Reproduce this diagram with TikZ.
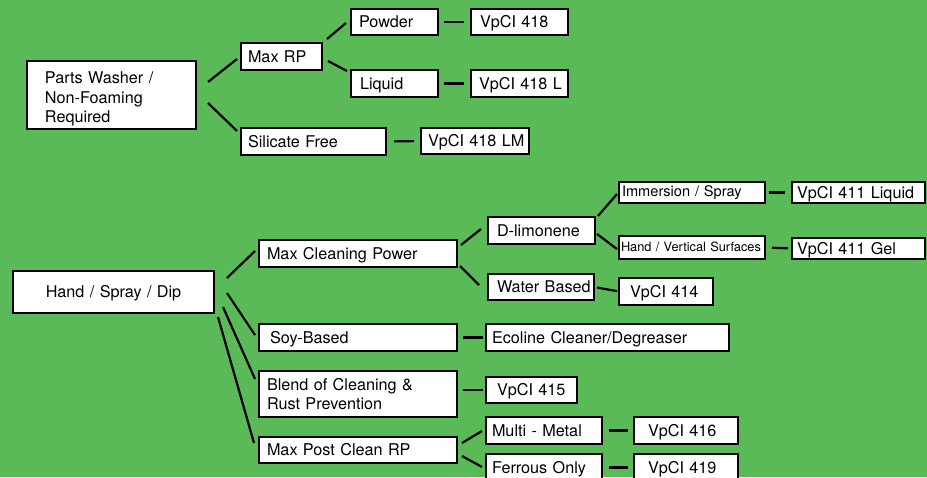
\documentclass[tikz,border=0pt]{standalone}
\usepackage{fontspec}
\setmainfont{TeX Gyre Heros}
\definecolor{leaf}{RGB}{91,186,88}

\begin{document}
\begin{tikzpicture}[x=1pt, y=-1pt, line width=2.2pt,
    main/.style = {draw, fill=white, anchor=north west, inner sep=0pt, outer sep=0pt, align=left,
      font=\fontsize{16.2}{19.5}\selectfont, text height=11.7pt, text depth=0pt},
    tie/.style 2 args = {shorten <=#1pt, shorten >=#2pt}]
      \useasboundingbox (0,0) rectangle (927,477);
      \fill[leaf] (0,0) rectangle (927,477);

      % parts washer branch
      \node[main, minimum width=169pt, minimum height=68pt, text width=133pt, text height=20pt, text depth={}] (1) at (27,61) {Parts Washer /\\Non-Foaming\\Required};
      \node[main, minimum width=81pt, minimum height=27pt, text width=67pt] (2) at (241,43) {Max RP};
      \node[main, minimum width=87pt, minimum height=26pt, text width=71pt] (3) at (351,9) {Powder};
      \node[main, minimum width=97pt, minimum height=26pt, text width=79pt] (4) at (471,9) {VpCI 418};
      \node[main, minimum width=87pt, minimum height=27pt, text width=69pt] (5) at (351,70) {Liquid};
      \node[main, minimum width=97pt, minimum height=27pt, text width=81pt] (6) at (471,70) {\mbox{VpCI 418 L}};
      \node[main, minimum width=145pt, minimum height=27pt, text width=131pt] (7) at (241,128) {Silicate Free};
      \node[main, minimum width=108pt, minimum height=26pt, text width=94pt] (8) at (421,128) {\mbox{VpCI 418 LM}};

      % hand / spray / dip branch
      \node[main, minimum width=201pt, minimum height=42pt, text width=181pt, align=center] (9) at (13,271) {Hand / Spray / Dip};
      \node[main, minimum width=198pt, minimum height=27pt, text width=182pt] (10) at (259,240) {Max Cleaning Power};
      \node[main, minimum width=198pt, minimum height=27pt, text width=176pt] (11) at (259,324) {Soy-Based};
      \node[main, minimum width=198pt, minimum height=46pt, text width=182pt, text height={}, text depth={}] (12) at (259,371) {Blend of Cleaning \&\\Rust Prevention};
      \node[main, minimum width=198pt, minimum height=26pt, text width=182pt] (13) at (259,437) {Max Post Clean RP};

      \node[main, minimum width=107pt, minimum height=27pt, text width=89pt] (14) at (488,217) {D-limonene};
      \node[main, minimum width=106pt, minimum height=26pt, text width=88pt] (15) at (488,274) {\mbox{Water Based}};
      \node[main, minimum width=146pt, minimum height=21pt, text width=140pt, text height=8.4pt, font=\fontsize{14.6}{17}\selectfont] (16) at (619,182) {Immersion / Spray};
      \node[main, minimum width=146pt, minimum height=23pt, text width=142pt, text height=8.4pt, font=\fontsize{12.8}{15}\selectfont] (17) at (619,236) {\mbox{Hand / Vertical Surfaces}};
      \node[main, minimum width=133pt, minimum height=21pt, text width=123pt] (18) at (792,182) {VpCI 411 Liquid};
      \node[main, minimum width=133pt, minimum height=21pt, text width=123pt] (19) at (792,238) {VpCI 411 Gel};
      \node[main, minimum width=94pt, minimum height=27pt, text width=72pt] (20) at (619,278) {VpCI 414};
      \node[main, minimum width=243pt, minimum height=27pt, text width=231pt] (21) at (486,324) {Ecoline Cleaner/Degreaser};
      \node[main, minimum width=91pt, minimum height=26pt, text width=69pt] (22) at (486,377) {\mbox{VpCI 415}};
      \node[main, minimum width=116pt, minimum height=27pt, text width=104pt] (23) at (486,417) {Multi - Metal};
      \node[main, minimum width=116pt, minimum height=27pt, text width=104pt] (24) at (486,454) {Ferrous Only};
      \node[main, minimum width=104pt, minimum height=27pt, text width=76pt] (25) at (634,417) {VpCI 416};
      \node[main, minimum width=104pt, minimum height=27pt, text width=76pt] (26) at (634,454) {VpCI 419};

      \path
      ([shift={(12,-13)}]1.east) edge ([shift={(-4,2.5)}]2.west)
      ([shift={(12,8)}]1.east) edge ([shift={(-4,-10.5)}]7.west)
      ([shift={(5,-17.5)}]2.east) edge ([shift={(-5,1)}]3.west)
      ([shift={(6,4.5)}]2.east) edge ([shift={(-4,-12.5)}]5.west)
      (3.east) edge[tie={6}{7}] (4.west)
      (5.east) edge[tie={6}{7}] (6.west)
      (7.east) edge[tie={8}{7}] (8.west)
      ([shift={(13,-14)}]9.east) edge ([shift={(-4,-2.5)}]10.west)
      ([shift={(13,1)}]9.east) edge ([shift={(-4,-2.5)}]11.west)
      ([shift={(9,15)}]9.east) edge ([shift={(-4,-15)}]12.west)
      ([shift={(4,25)}]9.east) edge ([shift={(-5,-7)}]13.west)
      ([shift={(4,-8.5)}]10.east) edge ([shift={(-7,-1.5)}]14.west)
      ([shift={(3,12.5)}]10.east) edge ([shift={(-9,-2)}]15.west)
      ([shift={(3,-14.5)}]14.east) edge ([shift={(-2,1.5)}]16.west)
      ([shift={(2,3.5)}]14.east) edge ([shift={(-2,1.5)}]17.west)
      (16.east) edge[tie={4}{7}] (18.west)
      (17.east) edge[tie={7}{4}] (19.west)
      (15.east) edge[tie={3}{2}] (20.west)
      (11.east) edge[tie={6}{3}] (21.west)
      ([shift={(6,-4)}]12.east) edge[tie={0}{3}] (22.west)
      ([shift={(5,-7)}]13.east) edge ([shift={(-4,0.5)}]23.west)
      ([shift={(5,6)}]13.east) edge ([shift={(-4,-0.5)}]24.west)
      (23.east) edge[tie={7}{6}] (25.west)
      (24.east) edge[tie={7}{6}] (26.west)
      ;
    \end{tikzpicture}
\end{document}
